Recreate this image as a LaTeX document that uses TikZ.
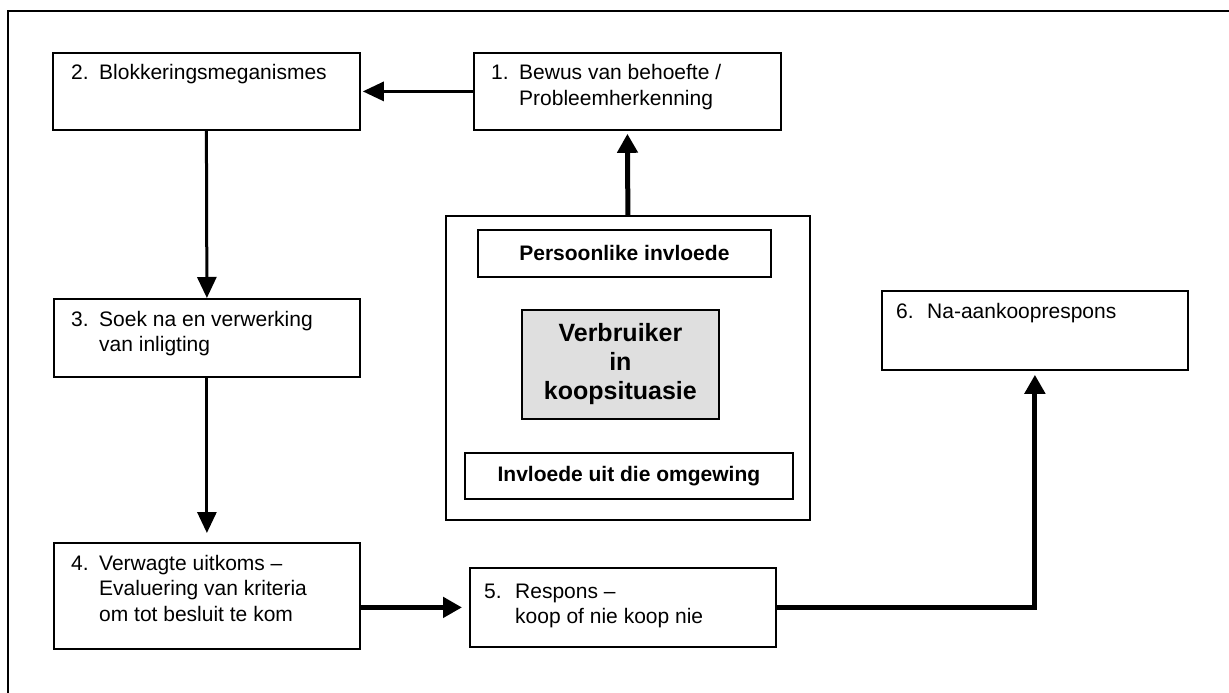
\documentclass[tikz,border=0pt]{standalone}
\usepackage{fontspec}
\setmainfont{Liberation Sans}
\usetikzlibrary{arrows.meta,calc}
% numbered entry: column width for the number, the number, then the rows
\newcommand\steprows[3]{\begin{tabular}[t]{@{}p{#1}@{}l@{}}#2&#3\end{tabular}}
\begin{document}
\begin{tikzpicture}[x=1pt,y=-1pt,
  box/.style={draw, line width=1.8pt, rectangle, anchor=north west, inner sep=0pt},
  txt/.style={anchor=base west, inner sep=0pt, font=\fontsize{21}{25.5}\selectfont},
  boldtxt/.style={font=\fontsize{21}{25}\selectfont\bfseries},
  thinarrow/.style={line width=3pt, -{Triangle[length=21pt,width=19pt]}},
  thickarrow/.style={line width=5pt, -{Triangle[length=19pt,width=20pt]}},
]
\useasboundingbox (0,0) rectangle (1229,693);

% page frame (top and left edges)
\draw[line width=2pt] (8,700) -- (8,11) -- (1235,11);

% process steps
\node[box, minimum width=307pt, minimum height=77pt] (b1) at (473,52) {};
\node[box, minimum width=307pt, minimum height=77pt] (b2) at (52,52) {};
\node[box, minimum width=306pt, minimum height=78pt] (b3) at (53,298) {};
\node[box, minimum width=306pt, minimum height=106pt] (b4) at (53,542) {};
\node[box, minimum width=306pt, minimum height=79pt] (b5) at (469,567) {};
\node[box, minimum width=306pt, minimum height=79pt] (b6) at (881,290) {};

\node[txt] (t1) at (491,80) {\steprows{28pt}{1.}{Bewus van behoefte /\\&Probleemherkenning}};
\node[txt] (t2) at (71,80) {\steprows{28pt}{2.}{Blokkeringsmeganismes}};
\node[txt] (t3) at (71,326) {\steprows{28pt}{3.}{Soek na en verwerking\\&van inligting}};
\node[txt] (t4) at (71,570) {\steprows{28pt}{4.}{Verwagte uitkoms –\\&Evaluering van kriteria\\&om tot besluit te kom}};
\node[txt] (t5) at (484,598) {\steprows{31pt}{5.}{Respons –\\&koop of nie koop nie}};
\node[txt] (t6) at (896,318) {\steprows{31pt}{6.}{Na-aankooprespons}};

% consumer and influences
\node[box, minimum width=364pt, minimum height=304pt] (outer) at (445,215) {};
\node[box, minimum width=293pt, minimum height=47pt, boldtxt] (pers) at (477,229) {Persoonlike invloede};
\node[box, minimum width=197pt, minimum height=109pt, fill=gray!25, align=center,
      font=\fontsize{25}{29}\selectfont\bfseries] (cons) at (521,309) {Verbruiker\\in\\koopsituasie};
\node[box, minimum width=328pt, minimum height=46pt, boldtxt] (omg) at (464,452) {Invloede uit die omgewing};

% connectors
\draw[thinarrow, shorten >=2pt] (b1.west) -- (b2.east);
\draw[thinarrow] (b2.south) -- (b3.north);
\draw[thinarrow, shorten >=9pt] (b3.south) -- (b4.north);
\draw[thickarrow, shorten >=3pt] (outer.north) -- (b1.south);
\draw[thickarrow, shorten >=7pt] (b4.east |- b5.west) -- (b5.west);
\draw[thickarrow, shorten >=4pt] (b5.east) -| (b6.south);
\end{tikzpicture}
\end{document}
